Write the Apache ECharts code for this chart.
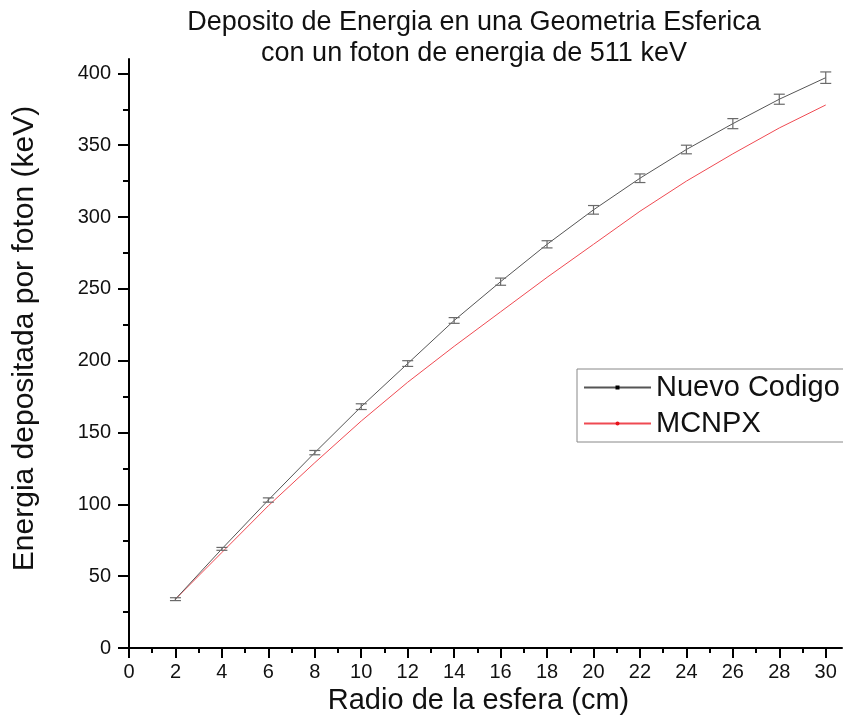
<!DOCTYPE html>
<html>
<head>
<meta charset="utf-8">
<script src="https://cdn.jsdelivr.net/npm/echarts@6/dist/echarts.min.js"></script>
<style>
  html, body { margin: 0; padding: 0; background: #fff; }
  #chart { width: 843px; height: 726px; }
</style>
</head>
<body>
<div id="chart"></div>
<script>
// datos
var radios = [2, 4, 6, 8, 10, 12, 14, 16, 18, 20, 22, 24, 26, 28, 30];
var nuevoCodigo = [34, 69, 103, 136, 168, 198, 228, 255, 281, 305, 327, 347, 365, 382, 397];
var nuevoError = [1, 1, 1.5, 1.5, 2, 2, 2, 2.5, 2.5, 3, 3, 3, 3.5, 3.5, 4];
var mcnpx = [34, 66.5, 99, 129, 158, 185, 210, 234, 258, 281, 304, 325, 344, 362, 378];

var xMajor = [0, 2, 4, 6, 8, 10, 12, 14, 16, 18, 20, 22, 24, 26, 28, 30];
var xMinor = [1, 3, 5, 7, 9, 11, 13, 15, 17, 19, 21, 23, 25, 27, 29];
var yMajor = [0, 50, 100, 150, 200, 250, 300, 350, 400];
var yMinor = [25, 75, 125, 175, 225, 275, 325, 375];

var fontFam = 'Liberation Sans';

var chart = echarts.init(document.getElementById('chart'));

var lineaNuevo = radios.map(function (x, i) { return [x, nuevoCodigo[i]]; });
var lineaMcnpx = radios.map(function (x, i) { return [x, mcnpx[i]]; });
var barras = radios.map(function (x, i) {
  return [x, nuevoCodigo[i] - nuevoError[i], nuevoCodigo[i] + nuevoError[i]];
});

chart.setOption({
  animation: false,
  title: {
    text: 'Deposito de Energia en una Geometria Esferica\ncon un foton de energia de 511 keV',
    left: 469,
    top: 2,
    textAlign: 'center',
    textStyle: {
      fontFamily: fontFam,
      fontSize: 27,
      fontWeight: 'normal',
      color: '#111',
      lineHeight: 31
    }
  },
  grid: { left: 129, right: 1, top: 59, bottom: 78 },
  legend: {
    orient: 'vertical',
    left: 577,
    top: 369,
    padding: [4, 30, 4, 6],
    itemGap: 7,
    itemWidth: 67,
    itemHeight: 5,
    borderColor: '#888',
    borderWidth: 1,
    textStyle: { fontFamily: fontFam, fontSize: 29, color: '#111' },
    data: ['Nuevo Codigo', 'MCNPX']
  },
  xAxis: [{
    type: 'value',
    min: 0,
    max: 30.7,
    name: 'Radio de la esfera (cm)',
    nameLocation: 'middle',
    nameGap: 35,
    nameTextStyle: { fontFamily: fontFam, fontSize: 29, color: '#111', padding: [0, 14, 0, 0] },
    splitLine: { show: false },
    axisLine: { lineStyle: { color: '#000', width: 2 } },
    axisTick: { customValues: xMajor, length: 10, lineStyle: { color: '#000', width: 2 } },
    axisLabel: { customValues: xMajor, margin: 14, fontFamily: fontFam, fontSize: 20, color: '#111' }
  }, {
    type: 'value',
    min: 0,
    max: 30.7,
    position: 'bottom',
    splitLine: { show: false },
    axisLine: { show: false },
    axisTick: { customValues: xMinor, length: 5, lineStyle: { color: '#000', width: 2 } },
    axisLabel: { show: false }
  }],
  yAxis: [{
    type: 'value',
    min: 0,
    max: 410,
    name: 'Energia depositada por foton (keV)',
    nameLocation: 'middle',
    nameGap: 89,
    nameTextStyle: { fontFamily: fontFam, fontSize: 30, color: '#111', padding: [0, 0, 0, 30] },
    splitLine: { show: false },
    axisLine: { show: true, lineStyle: { color: '#000', width: 2 } },
    axisTick: { show: true, customValues: yMajor, length: 11, lineStyle: { color: '#000', width: 2 } },
    axisLabel: { customValues: yMajor, margin: 18, fontFamily: fontFam, fontSize: 20, color: '#111' }
  }, {
    type: 'value',
    min: 0,
    max: 410,
    position: 'left',
    splitLine: { show: false },
    axisLine: { show: false },
    axisTick: { show: true, customValues: yMinor, length: 6, lineStyle: { color: '#000', width: 2 } },
    axisLabel: { show: false }
  }],
  series: [{
    name: 'MCNPX',
    type: 'line',
    data: lineaMcnpx,
    showSymbol: false,
    symbol: 'circle',
    symbolSize: 4,
    itemStyle: { color: '#e8131b' },
    lineStyle: { color: '#ef4a52', width: 1 },
    z: 2
  }, {
    name: 'Nuevo Codigo',
    type: 'line',
    data: lineaNuevo,
    showSymbol: false,
    symbol: 'rect',
    symbolSize: 3,
    itemStyle: { color: '#000' },
    lineStyle: { color: '#555', width: 1 },
    z: 3
  }, {
    name: 'error',
    type: 'custom',
    data: barras,
    z: 4,
    renderItem: function (params, api) {
      var x = api.value(0);
      var abajo = api.coord([x, api.value(1)]);
      var arriba = api.coord([x, api.value(2)]);
      var w = 5.5;
      var estilo = { stroke: '#6a6a6a', lineWidth: 1.2 };
      return {
        type: 'group',
        children: [
          { type: 'line', shape: { x1: abajo[0], y1: abajo[1], x2: arriba[0], y2: arriba[1] }, style: estilo },
          { type: 'line', shape: { x1: abajo[0] - w, y1: abajo[1], x2: abajo[0] + w, y2: abajo[1] }, style: estilo },
          { type: 'line', shape: { x1: arriba[0] - w, y1: arriba[1], x2: arriba[0] + w, y2: arriba[1] }, style: estilo }
        ]
      };
    }
  }]
});
</script>
</body>
</html>
